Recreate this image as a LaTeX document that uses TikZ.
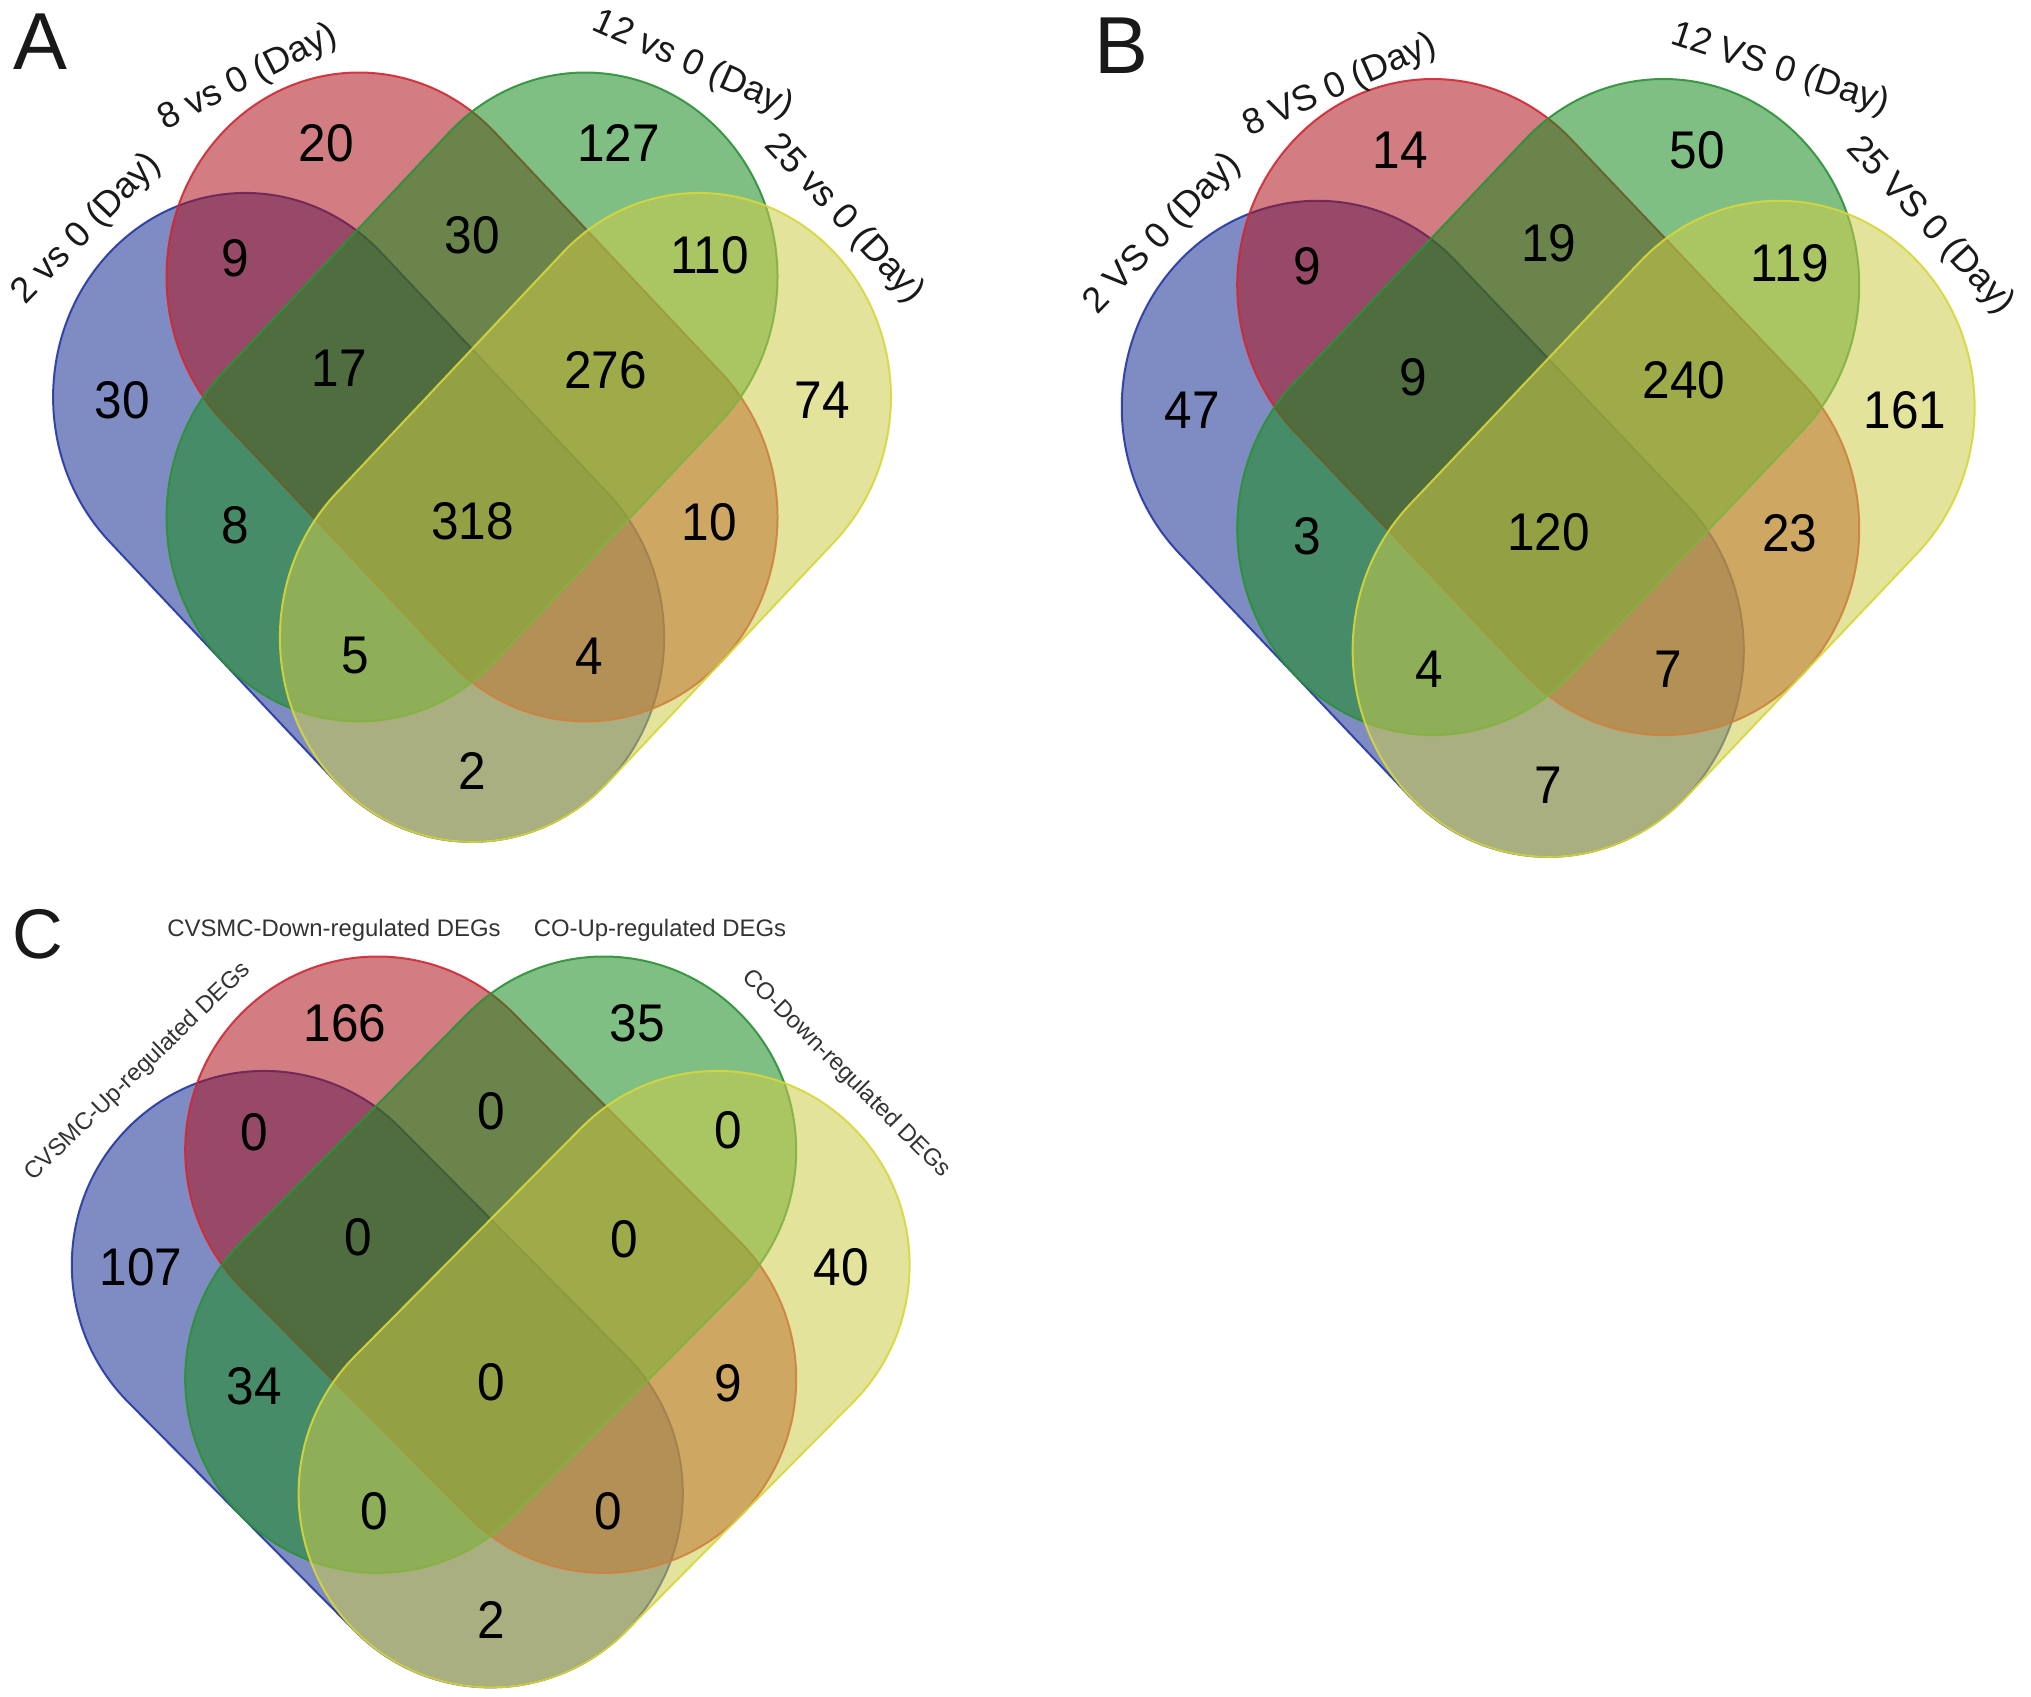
\documentclass[tikz,border=0pt]{standalone}
\usepackage{fontspec}
\usepackage{graphicx}
\setmainfont{Liberation Sans}
\definecolor{cb}{RGB}{22,46,148}
\definecolor{cr}{RGB}{171,19,27}
\definecolor{cg}{RGB}{22,139,31}
\definecolor{cy}{RGB}{204,204,73}
\definecolor{cbE}{RGB}{35,55,165}
\definecolor{crE}{RGB}{210,40,50}
\definecolor{cgE}{RGB}{45,145,55}
\definecolor{cyE}{RGB}{215,215,60}
\tikzset{
  setb/.style={fill=cb, fill opacity=0.55, draw=cbE, draw opacity=0.9, line width=0.2mm},
  setr/.style={fill=cr, fill opacity=0.55, draw=crE, draw opacity=0.9, line width=0.2mm},
  setg/.style={fill=cg, fill opacity=0.55, draw=cgE, draw opacity=0.9, line width=0.2mm},
  sety/.style={fill=cy, fill opacity=0.55, draw=cyE, draw opacity=0.9, line width=0.2mm},
  num/.style={font=\fontsize{14.1}{16}\selectfont, text=black, inner sep=0pt},
  lab/.style={font=\fontsize{10.3}{12}\selectfont, text=black!90, inner sep=0pt},
  labc/.style={font=\fontsize{6.8}{8}\selectfont, text=black!80, inner sep=0pt},
  panel/.style={font=\fontsize{23}{26}\selectfont, text=black!90, inner sep=0pt}
}
% one rounded capsule: style, centre x, centre y, rotation
\newcommand\vennshape[4]{%
  \begin{scope}[shift={(#2,#3)},rotate=#4]
    \path[#1] (-160.1,-192.3) -- (160.1,-192.3)
      arc[start angle=-90,end angle=90,radius=192.3] -- (-160.1,192.3)
      arc[start angle=90,end angle=270,radius=192.3] -- cycle;
  \end{scope}}
\newcommand\vennfour{%
  \begin{scope}[yscale=1.062]
    \vennshape{setb}{358.6}{487.2}{-45}
    \vennshape{setr}{472}{373.8}{-45}
    \vennshape{setg}{472}{373.8}{45}
    \vennshape{sety}{585.4}{487.2}{45}
  \end{scope}}
\newcommand\vtxt[1]{\scalebox{1}[1.07]{#1}}
\begin{document}
\begin{tikzpicture}[x=0.1mm,y=-0.1mm]
\useasboundingbox (0,0) rectangle (2031,1697);

% ---------------- Panel A ----------------
\begin{scope}
  \vennfour
  \foreach \px/\py/\t [count=\i] in {122.5/400/30,326.5/143/20,618.5/143/127,822.5/400/74,
      235.5/258/9,472.5/235/30,709.5/255/110,339.5/368/17,605.5/370/276,235.5/525/8,
      472.5/521/318,709.5/522/10,355.5/656/5,589.5/656/4,472.5/771/2}
    {\node[num] (a\i) at (\px,\py) {\vtxt{\t}};}
\end{scope}
\node[panel] (pA) at (40,42) {A};
\node[lab, rotate=46] (lA1) at (87,229) {2 vs 0 (Day)};
\node[lab, rotate=27] (lA2) at (248,78) {8 vs 0 (Day)};
\node[lab, rotate=-24] (lA3) at (693,65) {12 vs 0 (Day)};
\node[lab, rotate=-47] (lA4) at (844,219) {25 vs 0 (Day)};

% ---------------- Panel B ----------------
\begin{scope}[shift={(1067.7,5.7)},xscale=1.018,yscale=1.011]
  \vennfour
  \foreach \px/\py/\t [count=\i] in {122.5/400/47,326.5/143/14,618.5/143/50,822.5/400/161,
      235.5/258/9,472.5/235/19,709.5/255/119,339.5/368/9,605.5/370/240,235.5/525/3,
      472.5/521/120,709.5/522/23,355.5/656/4,589.5/656/7,472.5/771/7}
    {\node[num] (b\i) at (\px,\py) {\vtxt{\t}};}
\end{scope}
\node[panel] (pB) at (1121,46) {B};
\node[lab, rotate=46] (lB1) at (1163,234) {2 VS 0 (Day)};
\node[lab, rotate=24] (lB2) at (1340,86) {8 VS 0 (Day)};
\node[lab, rotate=-18] (lB3) at (1780,70) {12 VS 0 (Day)};
\node[lab, rotate=-47] (lB4) at (1930,226) {25 VS 0 (Day)};

% ---------------- Panel C ----------------
\begin{scope}[shift={(18.7,887.6)},yscale=0.95]
  \vennfour
  \foreach \px/\py/\t [count=\i] in {122.5/400/107,326.5/143/166,618.5/143/35,822.5/400/40,
      235.5/258/0,472.5/235/0,709.5/255/0,339.5/368/0,605.5/370/0,235.5/525/34,
      472.5/521/0,709.5/522/9,355.5/656/0,589.5/656/0,472.5/771/2}
    {\node[num] (c\i) at (\px,\py) {\vtxt{\t}};}
\end{scope}
\node[panel, font=\fontsize{20}{24}\selectfont] (pC) at (38,934) {C};
\node[labc, rotate=44] (lC1) at (138,1072) {CVSMC-Up-regulated DEGs};
\node[labc] (lC2) at (334,930) {CVSMC-Down-regulated DEGs};
\node[labc] (lC3) at (660,930) {CO-Up-regulated DEGs};
\node[labc, rotate=-45] (lC4) at (846,1074) {CO-Down-regulated DEGs};
\end{tikzpicture}
\end{document}
